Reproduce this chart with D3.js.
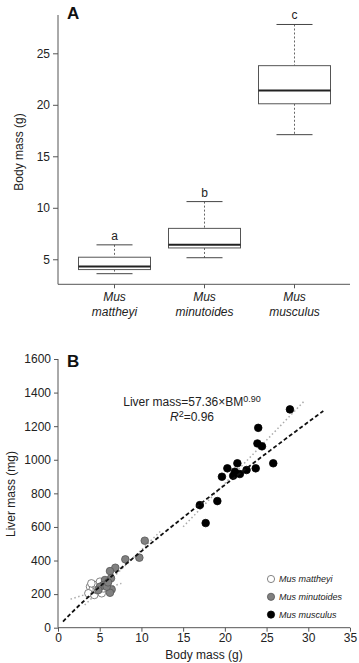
<!DOCTYPE html>
<html>
<head>
<meta charset="utf-8">
<script src="https://cdn.jsdelivr.net/npm/d3@7"></script>
<style>
  body { margin: 0; background: #fff; }
  svg { display: block; font-family: "Liberation Sans", Arial, sans-serif; }
</style>
</head>
<body>
<script>
// Panel A : boxplots de la masse corporelle
const species = ['Mus mattheyi', 'Mus minutoides', 'Mus musculus'];
const boxLow = [3.6, 5.15, 17.1];
const boxQ1 = [4.0, 6.1, 20.1];
const boxMedian = [4.3, 6.4, 21.4];
const boxQ3 = [5.2, 8.0, 23.8];
const boxHigh = [6.4, 10.6, 27.8];
const groupLetters = ['a', 'b', 'c'];
const bodyTicks = [5, 10, 15, 20, 25];

// Panel B : masse du foie vs masse corporelle
const mattheyiBM = [3.84, 4.16, 4.43, 3.64, 4.35, 5.03, 5.24, 4.64, 5.43, 4.0];
const mattheyiLM = [244, 228, 254, 205, 195, 274, 205, 224, 234, 264];
const minutoidesBM = [10.4, 9.75, 8.07, 6.87, 6.23, 6.35, 5.63, 5.43, 6.43, 6.23, 5.03, 5.83, 4.83, 6.0];
const minutoidesLM = [518, 417, 407, 357, 337, 294, 284, 254, 228, 208, 244, 244, 224, 270];
const musculusBM = [17.0, 19.1, 17.7, 27.8, 24.0, 23.9, 24.45, 25.8, 23.7, 21.5, 20.3, 19.65, 21.0, 21.2, 21.8, 22.6];
const musculusLM = [730, 754, 623, 1300, 1190, 1097, 1080, 979, 949, 979, 949, 899, 905, 929, 915, 939];

// droites d'ajustement par espèce (extrémités)
const fitMattheyi = [[1.5, 170], [7.6, 264]];
const fitMinutoides = [[3.2, 135], [12.3, 575]];
const fitMusculus = [[15.0, 601], [29.6, 1354]];
// modèle global : Liver mass = 57.36 x BM^0.90
const fitCoef = 57.36;
const fitExp = 0.90;
const fitRange = [0.6, 31.8];

const xTicksB = [0, 5, 10, 15, 20, 25, 30, 35];
const yTicksB = [0, 200, 400, 600, 800, 1000, 1200, 1400, 1600];

const width = 359;
const height = 663;
const axisColor = '#555';
const textColor = '#222';
const fs = 12;

const svg = d3.select('body')
  .append('svg')
  .attr('width', width)
  .attr('height', height);

// ---------- Panel A ----------
const ax = d3.scaleBand()
  .domain(species)
  .range([69.5, 339.5])
  .paddingInner(0.2)
  .paddingOuter(0.1);
const ay = d3.scaleLinear()
  .domain([2.57, 28.72])
  .range([284.3, 15]);

const gA = svg.append('g');

gA.append('g')
  .attr('transform', 'translate(58,0)')
  .call(d3.axisLeft(ay).tickValues(bodyTicks).tickSize(5).tickPadding(3))
  .call(g => g.select('.domain').attr('d', `M0,${ay.range()[1]}V${ay.range()[0]}`))
  .call(g => g.selectAll('line,path').attr('stroke', axisColor))
  .call(g => g.selectAll('text').attr('font-size', fs).attr('fill', textColor).attr('font-family', null));

gA.append('g')
  .attr('transform', `translate(0,${ay.range()[0]})`)
  .call(d3.axisBottom(ax).tickSize(4).tickFormat(''))
  .call(g => g.select('.domain').attr('d', 'M58,0H350'))
  .call(g => g.selectAll('line,path').attr('stroke', axisColor));

// étiquettes des espèces en deux lignes
const labA = gA.append('g')
  .selectAll('text')
  .data(species)
  .join('text')
    .attr('x', d => ax(d) + ax.bandwidth() / 2)
    .attr('text-anchor', 'middle')
    .attr('font-size', fs)
    .attr('font-style', 'italic')
    .attr('fill', textColor);
labA.append('tspan').attr('y', 301).text(d => d.split(' ')[0]);
labA.append('tspan').attr('y', 316).attr('x', d => ax(d) + ax.bandwidth() / 2).text(d => d.split(' ')[1]);

const boxes = gA.append('g')
  .selectAll('g')
  .data(species.map((s, i) => ({
    s, low: boxLow[i], q1: boxQ1[i], med: boxMedian[i], q3: boxQ3[i], high: boxHigh[i], letter: groupLetters[i]
  })))
  .join('g');

const cx = d => ax(d.s) + ax.bandwidth() / 2;
const capW = ax.bandwidth() / 4;

// moustaches pointillées
boxes.append('line')
  .attr('x1', cx).attr('x2', cx)
  .attr('y1', d => ay(d.high)).attr('y2', d => ay(d.q3))
  .attr('stroke', '#666').attr('stroke-dasharray', '2,2');
boxes.append('line')
  .attr('x1', cx).attr('x2', cx)
  .attr('y1', d => ay(d.q1)).attr('y2', d => ay(d.low))
  .attr('stroke', '#666').attr('stroke-dasharray', '2,2');
// extrémités
boxes.append('line')
  .attr('x1', d => cx(d) - capW).attr('x2', d => cx(d) + capW)
  .attr('y1', d => ay(d.high)).attr('y2', d => ay(d.high))
  .attr('stroke', '#444');
boxes.append('line')
  .attr('x1', d => cx(d) - capW).attr('x2', d => cx(d) + capW)
  .attr('y1', d => ay(d.low)).attr('y2', d => ay(d.low))
  .attr('stroke', '#444');
// boîtes
boxes.append('rect')
  .attr('x', d => ax(d.s))
  .attr('width', ax.bandwidth())
  .attr('y', d => ay(d.q3))
  .attr('height', d => ay(d.q1) - ay(d.q3))
  .attr('fill', '#fff')
  .attr('stroke', '#555');
boxes.append('line')
  .attr('x1', d => ax(d.s)).attr('x2', d => ax(d.s) + ax.bandwidth())
  .attr('y1', d => ay(d.med)).attr('y2', d => ay(d.med))
  .attr('stroke', '#222').attr('stroke-width', 2);
// lettres
boxes.append('text')
  .attr('x', cx)
  .attr('y', d => ay(d.high) - 5)
  .attr('text-anchor', 'middle')
  .attr('font-size', fs)
  .attr('fill', textColor)
  .text(d => d.letter);

gA.append('text')
  .attr('transform', 'translate(23,152) rotate(-90)')
  .attr('text-anchor', 'middle')
  .attr('font-size', fs)
  .attr('fill', textColor)
  .text('Body mass (g)');

gA.append('text')
  .attr('x', 67).attr('y', 19)
  .attr('font-size', 17).attr('font-weight', 'bold')
  .attr('fill', '#111')
  .text('A');

// ---------- Panel B ----------
const bx = d3.scaleLinear().domain([0, 35]).range([58, 350]);
const by = d3.scaleLinear().domain([0, 1600]).range([627.7, 359]);

const gB = svg.append('g');

gB.append('g')
  .attr('transform', 'translate(58,0)')
  .call(d3.axisLeft(by).tickValues(yTicksB).tickFormat(d3.format('d')).tickSize(4).tickPadding(3))
  .call(g => g.select('.domain').attr('d', `M0,${by.range()[1]}V${by.range()[0]}`))
  .call(g => g.selectAll('line,path').attr('stroke', axisColor))
  .call(g => g.selectAll('text').attr('font-size', fs).attr('fill', textColor).attr('font-family', null));

gB.append('g')
  .attr('transform', `translate(0,${by.range()[0]})`)
  .call(d3.axisBottom(bx).tickValues(xTicksB).tickSize(4).tickPadding(2))
  .call(g => g.select('.domain').attr('d', `M${bx.range()[0]},0H${bx.range()[1]}`))
  .call(g => g.selectAll('line,path').attr('stroke', axisColor))
  .call(g => g.selectAll('text').attr('font-size', fs).attr('fill', textColor).attr('font-family', null));

gB.append('text')
  .attr('x', bx(17.5)).attr('y', 659)
  .attr('text-anchor', 'middle')
  .attr('font-size', fs)
  .attr('fill', textColor)
  .text('Body mass (g)');

gB.append('text')
  .attr('transform', 'translate(15,494) rotate(-90)')
  .attr('text-anchor', 'middle')
  .attr('font-size', fs)
  .attr('fill', textColor)
  .text('Liver mass (mg)');

gB.append('text')
  .attr('x', 67).attr('y', 367)
  .attr('font-size', 17).attr('font-weight', 'bold')
  .attr('fill', '#111')
  .text('B');

// droites par espèce (pointillés gris)
const line = d3.line().x(d => bx(d[0])).y(d => by(d[1]));
gB.append('g')
  .selectAll('path')
  .data([fitMattheyi, fitMinutoides, fitMusculus])
  .join('path')
    .attr('d', line)
    .attr('fill', 'none')
    .attr('stroke', '#aaa')
    .attr('stroke-width', 1.5)
    .attr('stroke-dasharray', '1.5,2.5');

// points
const pts = (bm, lm) => bm.map((v, i) => [v, lm[i]]);
const groups = [
  { data: pts(mattheyiBM, mattheyiLM), fill: '#fff', stroke: '#666' },
  { data: pts(minutoidesBM, minutoidesLM), fill: '#808080', stroke: '#555' },
  { data: pts(musculusBM, musculusLM), fill: '#000', stroke: '#000' }
];
groups.forEach(grp => {
  gB.append('g')
    .selectAll('circle')
    .data(grp.data)
    .join('circle')
      .attr('cx', d => bx(d[0]))
      .attr('cy', d => by(d[1]))
      .attr('r', 3.8)
      .attr('fill', grp.fill)
      .attr('stroke', grp.stroke)
      .attr('stroke-width', 0.8);
});

// modèle global (tirets noirs)
const fitPts = d3.range(fitRange[0], fitRange[1] + 0.01, (fitRange[1] - fitRange[0]) / 40)
  .map(v => [v, fitCoef * Math.pow(v, fitExp)]);
gB.append('path')
  .attr('d', line(fitPts))
  .attr('fill', 'none')
  .attr('stroke', '#111')
  .attr('stroke-width', 1.8)
  .attr('stroke-dasharray', '4,2.5');

// équation
const eq = gB.append('text')
  .attr('x', 192).attr('y', 406)
  .attr('text-anchor', 'middle')
  .attr('font-size', fs)
  .attr('fill', textColor);
eq.append('tspan').text(`Liver mass=${fitCoef}\u00d7BM`);
eq.append('tspan').attr('dy', -4).attr('font-size', 9).text(fitExp.toFixed(2));

const r2 = gB.append('text')
  .attr('x', 192).attr('y', 421)
  .attr('text-anchor', 'middle')
  .attr('font-size', fs)
  .attr('fill', textColor);
r2.append('tspan').attr('font-style', 'italic').text('R');
r2.append('tspan').attr('dy', -4).attr('font-size', 9).text('2');
r2.append('tspan').attr('dy', 4).text('=0.96');

// légende
const legend = gB.append('g')
  .selectAll('g')
  .data(species.map((s, i) => ({ s, grp: groups[i] })))
  .join('g')
    .attr('transform', (d, i) => `translate(271,${579 + i * 17.8})`);
legend.append('circle')
  .attr('r', 3.6)
  .attr('fill', d => d.grp.fill)
  .attr('stroke', d => d.grp.stroke)
  .attr('stroke-width', 0.8);
legend.append('text')
  .attr('x', 8).attr('dy', '0.35em')
  .attr('font-size', 9)
  .attr('font-style', 'italic')
  .attr('fill', textColor)
  .text(d => d.s);
</script>
</body>
</html>
